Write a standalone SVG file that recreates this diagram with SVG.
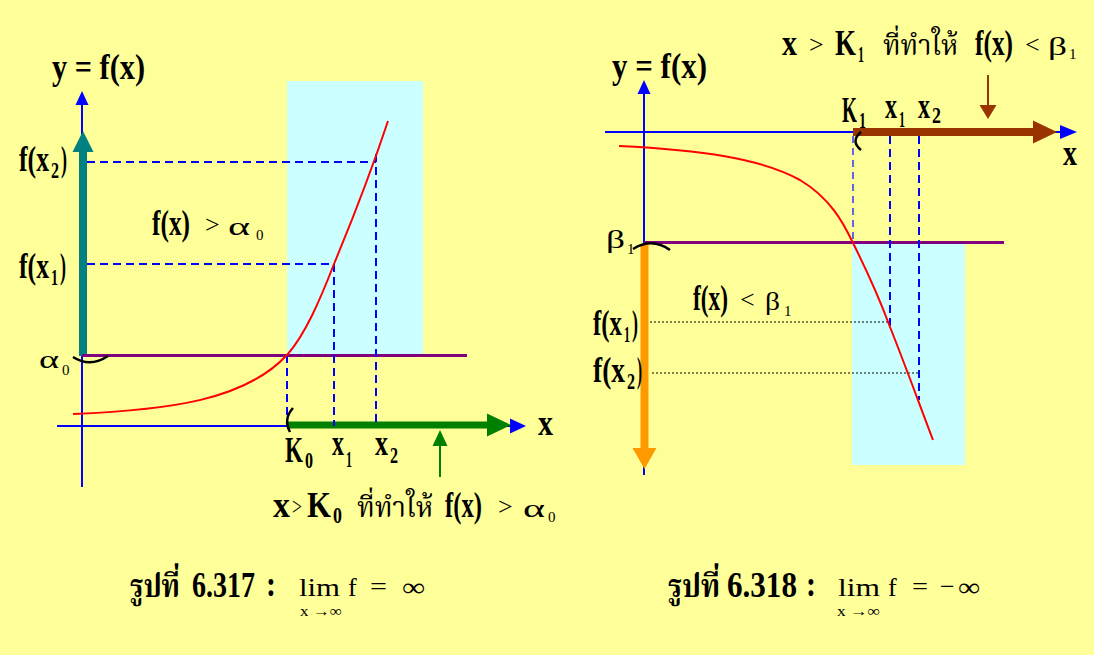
<svg xmlns="http://www.w3.org/2000/svg" width="1094" height="655" viewBox="0 0 1094 655">
<defs>
<style>
.b{font-family:"Liberation Serif","Noto Serif Thai","Noto Sans Thai",serif;font-weight:bold;font-size:36px;fill:#000}
.s{font-family:"Liberation Serif",serif;font-weight:bold;font-size:23px;fill:#000}
.r{font-family:"Liberation Serif","Noto Serif Thai","Noto Sans Thai",serif;font-size:26px;fill:#000}
.rs{font-family:"Liberation Serif",serif;font-size:15px;fill:#000}
.th{font-family:"Liberation Serif","Noto Serif Thai","Noto Sans Thai",serif;font-size:28px;fill:#000}
.thb{font-family:"Liberation Serif","Noto Serif Thai","Noto Sans Thai",serif;font-weight:bold;font-size:32px;fill:#000}
.ax{stroke:#0000FF;stroke-width:2;fill:none}
.dash{stroke:#0000FF;stroke-width:2;stroke-dasharray:8 5;fill:none}
.dot{stroke:#000;stroke-width:1;stroke-dasharray:2 2;fill:none}
.curve{stroke:#FF0000;stroke-width:2;fill:none}
.lev{stroke:#800080;stroke-width:3}
.brk{stroke:#000;stroke-width:2.5;fill:none}
</style>
</defs>
<rect x="0" y="0" width="1094" height="655" fill="#FFFF99"/>

<!-- LEFT FIGURE -->
<g id="left-shade"><rect x="287" y="81" width="136" height="274" fill="#CCFFFF"/></g>
<g id="left-connectors">
  <line class="ax" x1="82" y1="487" x2="82" y2="104"/>
  <polygon points="82,91 75.5,105 88.5,105" fill="#0000FF"/>
  <line class="ax" x1="57" y1="426" x2="511" y2="426"/>
  <polygon points="526,426 510,418.5 510,433.5" fill="#0000FF"/>
  <line x1="83" y1="356" x2="83" y2="150" stroke="#008080" stroke-width="8"/>
  <polygon points="83,131 72.5,152 93.5,152" fill="#008080"/>
  <line x1="287" y1="425" x2="490" y2="425" stroke="#008000" stroke-width="7"/>
  <polygon points="511,425 487,413.5 487,436.5" fill="#008000"/>
  <line class="lev" x1="82" y1="355.5" x2="467" y2="355.5"/>
  <path class="dash" d="M87,162 H376 M87,264 H334 M334,264 V426 M376,154 V426 M287,355 V426"/>
  <path class="curve" d="M73,414 C170,410 245,400 287,355 C305,335 320,300 334,264 C350,225 365,190 388,121"/>
  <path class="brk" d="M73,357 Q90,368 108,356"/>
  <path class="brk" d="M293,408 Q283,419 290,432" stroke-width="2"/>
  <line x1="440" y1="477" x2="440" y2="444" stroke="#008000" stroke-width="2"/>
  <polygon points="440,430 432.5,446 447.5,446" fill="#008000"/>
</g>
<g id="left-labels">
  <text class="b" transform="translate(52,79) scale(0.842,1)">y = f(x)</text>
  <g id="l-fx2">
    <text class="b" transform="translate(19,171) scale(0.715,1)">f(x</text>
    <text class="s" transform="translate(51,178) scale(0.7,1)">2</text>
    <text class="b" transform="translate(61,171) scale(0.5,1)">)</text>
  </g>
  <g id="l-fx1">
    <text class="b" transform="translate(19,278) scale(0.715,1)">f(x</text>
    <text class="s" transform="translate(51,285) scale(0.61,1)">1</text>
    <text class="b" transform="translate(60,278) scale(0.5,1)">)</text>
  </g>
  <g id="l-cond">
    <text class="b" transform="translate(152,235) scale(0.704,1)">f(x)</text>
    <text class="r" x="205" y="233">&gt;</text>
    <text class="r" x="228" y="235" textLength="22" lengthAdjust="spacingAndGlyphs">α</text>
    <text class="rs" x="256" y="240">0</text>
  </g>
  <g id="l-alpha">
    <text class="r" x="39" y="368" textLength="20" lengthAdjust="spacingAndGlyphs">α</text>
    <text class="rs" x="62" y="375">0</text>
  </g>
  <g id="l-K0">
    <text class="b" transform="translate(285,462) scale(0.643,1)">K</text>
    <text class="s" transform="translate(305,468) scale(0.7,1)">0</text>
  </g>
  <g id="l-x1">
    <text class="b" transform="translate(332,455) scale(0.667,1)">x</text>
    <text class="s" transform="translate(346,467) scale(0.52,1)">1</text>
  </g>
  <g id="l-x2">
    <text class="b" transform="translate(375,455) scale(0.722,1)">x</text>
    <text class="s" transform="translate(390,463) scale(0.7,1)">2</text>
  </g>
  <text class="b" transform="translate(538,435) scale(0.833,1)">x</text>
  <g id="l-note">
    <text class="b" transform="translate(273,517) scale(0.944,1)">x</text>
    <text class="r" transform="translate(292,515) scale(0.68,1)">&gt;</text>
    <text class="b" transform="translate(307,517) scale(0.857,1)">K</text>
    <text class="s" transform="translate(333,523) scale(0.78,1)">0</text>
    <text class="th" x="357" y="517" textLength="76" lengthAdjust="spacingAndGlyphs">ที่ทำให้</text>
    <text class="b" transform="translate(445,517) scale(0.685,1)">f(x)</text>
    <text class="r" x="498" y="515">&gt;</text>
    <text class="r" x="523" y="517" textLength="22" lengthAdjust="spacingAndGlyphs">α</text>
    <text class="rs" x="548" y="522">0</text>
  </g>
  <g id="l-caption">
    <text class="thb" x="130" y="597" textLength="50" lengthAdjust="spacingAndGlyphs">รูปที่</text>
    <text class="b" transform="translate(192,597) scale(0.778,1)">6.317</text>
    <text class="b" transform="translate(266,596) scale(0.83,1)">:</text>
    <text class="r" x="299" y="596" textLength="41" lengthAdjust="spacingAndGlyphs">lim</text>
    <text class="r" x="348" y="596">f</text>
    <text class="r" x="370" y="595" textLength="17" lengthAdjust="spacingAndGlyphs">=</text>
    <text class="r" x="402" y="596" textLength="23" lengthAdjust="spacingAndGlyphs">∞</text>
    <text class="rs" x="300" y="616" font-size="13" textLength="42" lengthAdjust="spacingAndGlyphs">x →∞</text>
  </g>
</g>

<!-- RIGHT FIGURE -->
<g id="right-shade"><rect x="852" y="243" width="113" height="222" fill="#CCFFFF"/></g>
<g id="right-connectors">
  <line class="ax" x1="644" y1="475" x2="644" y2="93"/>
  <polygon points="644,80 637.5,94 650.5,94" fill="#0000FF"/>
  <line class="ax" x1="605" y1="132" x2="1062" y2="132"/>
  <polygon points="1077,132 1060,125 1060,139" fill="#0000FF"/>
  <line x1="853" y1="132" x2="1036" y2="132" stroke="#993300" stroke-width="8"/>
  <polygon points="1057,132 1033,120.5 1033,143.5" fill="#993300"/>
  <line x1="644.5" y1="244" x2="644.5" y2="450" stroke="#FF9900" stroke-width="8"/>
  <polygon points="644.5,469 632.5,448 656.5,448" fill="#FF9900"/>
  <line class="lev" x1="644" y1="242.5" x2="1004" y2="242.5"/>
  <path class="dash" d="M890,136 V329 M919,136 V400"/>
  <path d="M853,136 V243" stroke="#3333FF" stroke-width="1.5" stroke-dasharray="7 5" fill="none"/>
  <path class="dot" d="M650,322 H890 M652,373 H919"/>
  <path class="curve" d="M619,146 C700,150 760,158 800,180 C830,198 843,222 853,243 C868,273 880,300 890,327 C904,362 916,395 933,440"/>
  <path class="brk" d="M633,249 Q652,237 670,250"/>
  <path class="brk" d="M861,132 Q850,141 861,150" stroke-width="2"/>
  <line x1="988" y1="75" x2="988" y2="108" stroke="#993300" stroke-width="2"/>
  <polygon points="988,119 979.5,105 996.5,105" fill="#993300"/>
</g>
<g id="right-labels">
  <text class="b" transform="translate(612,78) scale(0.86,1)">y = f(x)</text>
  <g id="r-note">
    <text class="b" transform="translate(782,55) scale(0.833,1)">x</text>
    <text class="r" x="809" y="53" font-size="24">&gt;</text>
    <text class="b" transform="translate(835,55) scale(0.75,1)">K</text>
    <text class="s" transform="translate(858,62) scale(0.52,1)">1</text>
    <text class="th" x="883" y="55" textLength="75" lengthAdjust="spacingAndGlyphs">ที่ทำให้</text>
    <text class="b" transform="translate(975,55) scale(0.704,1)">f(x)</text>
    <text class="r" x="1025" y="53" font-size="24">&lt;</text>
    <text class="r" x="1048" y="55" font-size="24" textLength="19" lengthAdjust="spacingAndGlyphs">β</text>
    <text class="rs" x="1069" y="59" font-size="14">1</text>
  </g>
  <g id="r-K1">
    <text class="b" transform="translate(842,122) scale(0.536,1)">K</text>
    <text class="s" transform="translate(859,128) scale(0.61,1)">1</text>
  </g>
  <g id="r-x1">
    <text class="b" transform="translate(885,118) scale(0.667,1)">x</text>
    <text class="s" transform="translate(899,127) scale(0.52,1)">1</text>
  </g>
  <g id="r-x2">
    <text class="b" transform="translate(918,118) scale(0.667,1)">x</text>
    <text class="s" transform="translate(932,123) scale(0.78,1)">2</text>
  </g>
  <text class="b" transform="translate(1063,165) scale(0.778,1)">x</text>
  <g id="r-beta">
    <text class="r" x="606" y="248" textLength="19" lengthAdjust="spacingAndGlyphs">β</text>
    <text class="rs" x="627" y="254" font-size="14">1</text>
  </g>
  <g id="r-cond">
    <text class="b" transform="translate(693,310) scale(0.648,1)">f(x)</text>
    <text class="r" x="740" y="308" font-size="24">&lt;</text>
    <text class="r" x="765" y="310" font-size="24" textLength="15" lengthAdjust="spacingAndGlyphs">β</text>
    <text class="rs" x="784" y="316" font-size="14">1</text>
  </g>
  <g id="r-fx1">
    <text class="b" transform="translate(593,335) scale(0.69,1)">f(x</text>
    <text class="s" transform="translate(624,342) scale(0.52,1)">1</text>
    <text class="b" transform="translate(632,335) scale(0.5,1)">)</text>
  </g>
  <g id="r-fx2">
    <text class="b" transform="translate(593,382) scale(0.762,1)">f(x</text>
    <text class="s" transform="translate(627,389) scale(0.7,1)">2</text>
    <text class="b" transform="translate(637,382) scale(0.42,1)">)</text>
  </g>
  <g id="r-caption">
    <text class="thb" x="668" y="597" textLength="52" lengthAdjust="spacingAndGlyphs">รูปที่</text>
    <text class="b" transform="translate(727,597) scale(0.864,1)">6.318</text>
    <text class="b" transform="translate(806,596) scale(0.83,1)">:</text>
    <text class="r" x="838" y="596" textLength="42" lengthAdjust="spacingAndGlyphs">lim</text>
    <text class="r" x="888" y="596">f</text>
    <text class="r" x="912" y="595" textLength="16" lengthAdjust="spacingAndGlyphs">=</text>
    <text class="r" x="940" y="595">−</text>
    <text class="r" x="958" y="596" textLength="22" lengthAdjust="spacingAndGlyphs">∞</text>
    <text class="rs" x="837" y="616" font-size="13" textLength="43" lengthAdjust="spacingAndGlyphs">x →∞</text>
  </g>
</g>
</svg>
